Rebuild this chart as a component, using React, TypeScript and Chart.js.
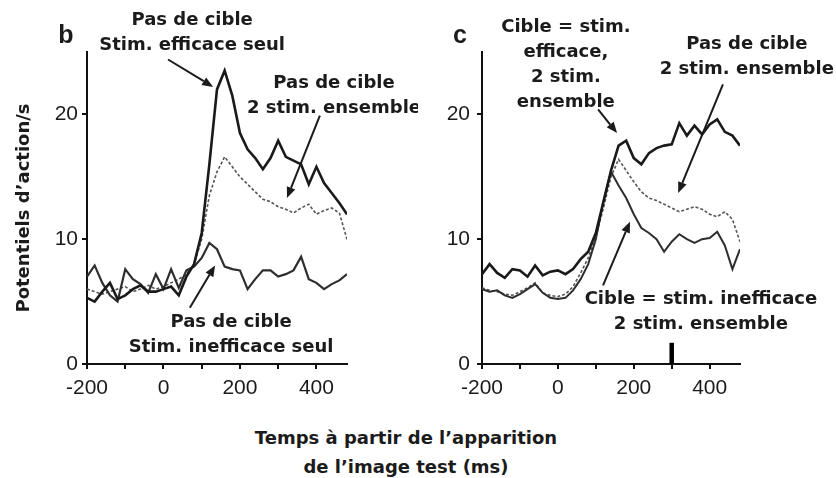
import React, { useEffect, useRef } from "react";
import { Chart, registerables } from "chart.js";

Chart.register(...registerables);

// ---- data ----
const times = [-200, -180, -160, -140, -120, -100, -80, -60, -40, -20, 0, 20, 40, 60, 80, 100, 120, 140, 160, 180, 200, 220, 240, 260, 280, 300, 320, 340, 360, 380, 400, 420, 440, 460, 480];

// panel b
const bEfficaceSeul = [5.3, 5.0, 5.8, 6.5, 5.2, 5.5, 6.0, 6.3, 5.8, 5.8, 6.0, 6.2, 5.5, 7.0, 8.0, 10.5, 16.0, 22.0, 23.5, 21.5, 18.5, 17.2, 16.5, 15.6, 16.5, 17.9, 16.6, 16.3, 16.0, 14.4, 15.8, 14.5, 13.7, 12.9, 12.0];
const bDeuxEnsemble = [6.0, 5.8, 5.6, 5.8, 6.0, 6.2, 5.8, 6.0, 6.3, 6.0, 6.2, 6.5, 6.8, 7.2, 8.0, 10.0, 13.5, 15.4, 16.6, 15.8, 15.0, 14.4, 13.8, 13.2, 13.0, 12.6, 12.4, 12.1, 12.5, 12.8, 12.0, 12.3, 12.5, 12.1, 10.0];
const bInefficaceSeul = [7.0, 7.9, 6.5, 5.5, 5.0, 7.6, 6.8, 6.4, 5.7, 7.2, 6.0, 7.6, 6.1, 7.5, 7.8, 8.5, 9.7, 9.2, 7.8, 7.6, 7.5, 6.0, 6.8, 7.5, 7.5, 7.0, 7.2, 7.5, 8.6, 6.8, 6.5, 6.0, 6.4, 6.7, 7.2];

// panel c
const cCibleEfficace = [7.2, 8.0, 7.3, 6.9, 7.6, 7.5, 7.0, 7.9, 7.1, 7.4, 7.5, 7.2, 7.6, 8.4, 9.0, 10.5, 13.0, 15.5, 17.5, 17.9, 16.5, 16.0, 16.9, 17.3, 17.5, 17.6, 19.3, 18.3, 19.1, 18.4, 19.2, 19.6, 18.6, 18.3, 17.5];
const cPasDeCible = [6.1, 5.9, 5.8, 5.6, 5.5, 5.8, 6.1, 6.5, 5.7, 5.5, 5.4, 5.6, 6.2, 7.3, 8.5, 10.2, 12.5, 15.0, 16.4, 15.5, 14.6, 13.8, 13.3, 13.1, 12.8, 12.5, 12.2, 12.4, 12.6, 12.4, 12.0, 11.8, 12.2, 11.6, 9.8];
const cCibleInefficace = [6.0, 5.8, 5.9, 5.5, 5.3, 5.6, 6.0, 6.4, 5.7, 5.3, 5.2, 5.3, 5.9, 6.8, 8.0, 10.0, 13.0, 15.4, 14.3, 13.3, 12.0, 10.9, 10.5, 10.0, 9.0, 9.8, 10.4, 10.0, 9.7, 10.0, 10.1, 10.6, 9.5, 7.6, 9.2];

// stimulus marker in panel c
const markerTime = [300, 300];
const markerLevel = [0, 1.7];

// axis ticks
const xTickValues = [-200, -100, 0, 100, 200, 300, 400];
const xLabelled = [-200, 0, 200, 400];
const yTickValues = [0, 10, 20];

const yTitle = "Potentiels d’action/s";
const xTitle = ["Temps à partir de l’apparition", "de l’image test (ms)"];

type Ann = { lines: string[]; tx: number; ty: number; from: [number, number]; to: [number, number] };

const bAnnotations: Ann[] = [
  { lines: ["Pas de cible", "Stim. efficace seul"], tx: 75, ty: 27.5, from: [12, 24.4], to: [130, 22.2] },
  { lines: ["Pas de cible", "2 stim. ensemble"], tx: 446, ty: 22.5, from: [409, 19.9], to: [323, 13.3] },
  { lines: ["Pas de cible", "Stim. inefficace seul"], tx: 177, ty: 3.3, from: [69, 4.5], to: [135, 7.9] },
];

const cAnnotations: Ann[] = [
  { lines: ["Cible = stim.", "efficace,", "2 stim.", "ensemble"], tx: 21, ty: 27.0, from: [106, 20.4], to: [156, 18.5] },
  { lines: ["Pas de cible", "2 stim. ensemble"], tx: 498, ty: 25.6, from: [435, 22.4], to: [317, 13.7] },
  { lines: ["Cible = stim. inefficace", "2 stim. ensemble"], tx: 377, ty: 5.2, from: [119, 6.3], to: [190, 11.4] },
];

const toPts = (vals: number[], xs: number[] = times) => vals.map((v, i) => ({ x: xs[i], y: v }));

const INK = "#1b1b1b";
const ANN_FONT = 'bold 18px "DejaVu Sans", sans-serif';
const TICK_FONT_FAMILY = '"Liberation Sans", Arial, sans-serif';

function makeAnnPlugin(anns: Ann[], letter: { text: string; x: number; y: number }) {
  return {
    id: "annotations",
    afterDraw(chart: any) {
      const { ctx } = chart;
      const xs = chart.scales.x;
      const ys = chart.scales.y;
      ctx.save();
      ctx.fillStyle = INK;
      ctx.strokeStyle = INK;
      ctx.font = ANN_FONT;
      ctx.textAlign = "center";
      ctx.textBaseline = "middle";
      for (const a of anns) {
        const cx = xs.getPixelForValue(a.tx);
        const cy = ys.getPixelForValue(a.ty);
        a.lines.forEach((l, i) => ctx.fillText(l, cx, cy + i * 25));
        const x1 = xs.getPixelForValue(a.from[0]);
        const y1 = ys.getPixelForValue(a.from[1]);
        const x2 = xs.getPixelForValue(a.to[0]);
        const y2 = ys.getPixelForValue(a.to[1]);
        const ang = Math.atan2(y2 - y1, x2 - x1);
        const hl = 11;
        const hw = 4.5;
        const bx = x2 - hl * Math.cos(ang);
        const by = y2 - hl * Math.sin(ang);
        ctx.lineWidth = 2;
        ctx.beginPath();
        ctx.moveTo(x1, y1);
        ctx.lineTo(bx, by);
        ctx.stroke();
        ctx.beginPath();
        ctx.moveTo(x2, y2);
        ctx.lineTo(bx + hw * Math.sin(ang), by - hw * Math.cos(ang));
        ctx.lineTo(bx - hw * Math.sin(ang), by + hw * Math.cos(ang));
        ctx.closePath();
        ctx.fill();
      }
      ctx.font = 'bold 25px "Liberation Sans", Arial, sans-serif';
      ctx.textBaseline = "alphabetic";
      ctx.fillText(letter.text, letter.x, letter.y);
      ctx.restore();
    },
  };
}

function makeConfig(
  datasets: any[],
  anns: Ann[],
  letter: { text: string; x: number; y: number },
  yWidth: number,
  rightPad: number,
  showYTitle: boolean,
  yTickPad: number
): any {
  return {
    type: "line",
    data: { datasets },
    options: {
      animation: false,
      responsive: false,
      maintainAspectRatio: false,
      events: [],
      layout: { padding: { top: 52, right: rightPad, left: 0, bottom: 0 } },
      plugins: { legend: { display: false }, tooltip: { enabled: false } },
      elements: { point: { radius: 0 }, line: { tension: 0 } },
      scales: {
        x: {
          type: "linear",
          min: -200,
          max: 480,
          afterBuildTicks: (s: any) => {
            s.ticks = xTickValues.map((v) => ({ value: v }));
          },
          afterFit: (s: any) => {
            s.height = 56;
          },
          ticks: {
            autoSkip: false,
            maxRotation: 0,
            padding: 7,
            color: INK,
            font: { family: TICK_FONT_FAMILY, size: 21 },
            callback: (v: number) => (xLabelled.includes(v) ? String(v) : ""),
          },
          grid: { display: true, drawOnChartArea: false, drawTicks: true, tickLength: 5, color: "#111", lineWidth: 2 },
          border: { display: true, color: "#111", width: 2 },
        },
        y: {
          min: 0,
          max: 25,
          afterBuildTicks: (s: any) => {
            s.ticks = yTickValues.map((v) => ({ value: v }));
          },
          afterFit: (s: any) => {
            s.width = yWidth;
          },
          ticks: {
            padding: yTickPad,
            color: INK,
            font: { family: TICK_FONT_FAMILY, size: 21 },
          },
          title: {
            display: showYTitle,
            text: yTitle,
            color: INK,
            font: { family: '"DejaVu Sans", sans-serif', size: 18, weight: "bold" },
            padding: { top: 14, bottom: 0 },
          },
          grid: { display: true, drawOnChartArea: false, drawTicks: true, tickLength: 5, color: "#111", lineWidth: 2 },
          border: { display: true, color: "#111", width: 2 },
        },
      },
    },
    plugins: [makeAnnPlugin(anns, letter)],
  };
}

function Panel(props: { config: any; left: number }) {
  const ref = useRef<HTMLCanvasElement | null>(null);
  useEffect(() => {
    if (!ref.current) return;
    const chart = new Chart(ref.current, props.config);
    return () => chart.destroy();
  }, []);
  return (
    <canvas
      ref={ref}
      width={418}
      height={420}
      style={{ position: "absolute", left: props.left, top: 0, width: 418, height: 420 }}
    />
  );
}

export default function App() {
  const bDatasets = [
    { data: toPts(bEfficaceSeul), borderColor: "#1a1a1a", borderWidth: 2.6 },
    { data: toPts(bInefficaceSeul), borderColor: "#2e2e2e", borderWidth: 2.2 },
    { data: toPts(bDeuxEnsemble), borderColor: "#555", borderWidth: 1.6, borderDash: [3, 2] },
  ];
  const cDatasets = [
    { data: toPts(cCibleEfficace), borderColor: "#1a1a1a", borderWidth: 2.6 },
    { data: toPts(cCibleInefficace), borderColor: "#2e2e2e", borderWidth: 2 },
    { data: toPts(cPasDeCible), borderColor: "#555", borderWidth: 1.6, borderDash: [3, 2] },
    { data: toPts(markerLevel, markerTime), borderColor: "#000", borderWidth: 4.5 },
  ];
  const bConfig = makeConfig(bDatasets, bAnnotations, { text: "b", x: 66, y: 43 }, 87, 71, true, 4);
  const cConfig = makeConfig(cDatasets, cAnnotations, { text: "c", x: 42, y: 43 }, 64, 96, false, 7);
  return (
    <div style={{ position: "absolute", left: 0, top: 0, width: 836, height: 478, background: "#fff", overflow: "hidden" }}>
      <Panel config={bConfig} left={0} />
      <Panel config={cConfig} left={418} />
      <div
        style={{
          position: "absolute",
          left: 0,
          top: 423,
          width: 812,
          textAlign: "center",
          font: 'bold 18px "DejaVu Sans", sans-serif',
          lineHeight: "29px",
          color: INK,
        }}
      >
        {xTitle[0]}
        <br />
        {xTitle[1]}
      </div>
    </div>
  );
}
